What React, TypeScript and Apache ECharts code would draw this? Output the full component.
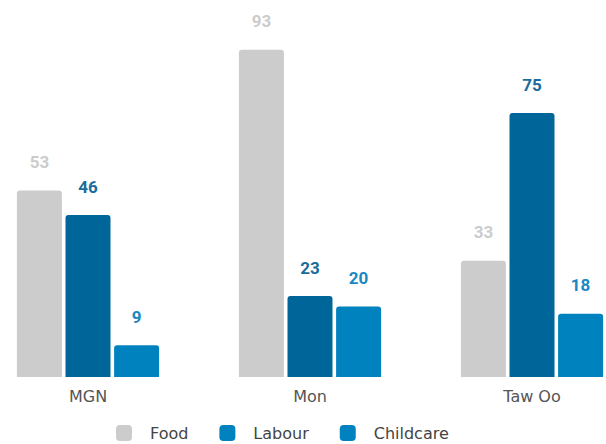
import React, { useEffect, useRef } from "react";
import * as echarts from "echarts";

const categories = ["MGN", "Mon", "Taw Oo"];
const food = [53, 93, 33];
const labour = [46, 23, 75];
const childcare = [9, 20, 18];

export default function App() {
  const ref = useRef<HTMLDivElement>(null);
  useEffect(() => {
    if (!ref.current) return;
    const chart = echarts.init(ref.current, undefined, { renderer: "svg" });
    const font = "Roboto, 'Noto Sans', sans-serif";
    const txtFont = "'DejaVu Sans', sans-serif";
    const mk = (name: string, data: number[], color: string, labelColor: string, legendColor: string) => ({
      name,
      type: "bar",
      data,
      barWidth: 45,
      barGap: "8%",
      itemStyle: { color, borderRadius: [3, 3, 0, 0] },
      label: {
        show: true,
        position: "top",
        distance: 20,
        color: labelColor,
        fontSize: 17,
        fontWeight: "bold",
        fontFamily: font,
      },
      legendColor,
    });
    const s = [
      mk("Food", food, "#cccccc", "#cccccc", "#cccccc"),
      mk("Labour", labour, "#00669a", "#1a6c9c", "#0082bf"),
      mk("Childcare", childcare, "#0082bf", "#1a88c2", "#0082bf"),
    ];
    chart.setOption({
      animation: false,
      grid: { left: 0, right: 0, top: 25, bottom: 67 },
      legend: {
        left: 139,
        top: 425,
        padding: 0,
        itemWidth: 16,
        itemHeight: 16,
        itemGap: 31,
        icon: "roundRect",
        textStyle: { fontSize: 16, color: "#444", fontFamily: txtFont, padding: [0, 0, 0, 13] },
        data: s.map((x) => ({ name: x.name, itemStyle: { color: x.legendColor } })),
      },
      xAxis: {
        type: "category",
        data: categories,
        axisLine: { show: false },
        axisTick: { show: false },
        axisLabel: { fontSize: 16, color: "#555", fontFamily: txtFont, margin: 11 },
      },
      yAxis: { type: "value", min: 0, max: 100, show: false, splitLine: { show: false } },
      series: s.map(({ legendColor, ...rest }) => rest),
    });
    return () => chart.dispose();
  }, []);
  return (
    <div style={{ position: "absolute", left: 0, top: 0, width: 606, height: 444, overflow: "hidden" }}>
      <div
        ref={ref}
        style={{ position: "absolute", left: -23, top: 0, width: 666, height: 444 }}
      />
    </div>
  );
}
